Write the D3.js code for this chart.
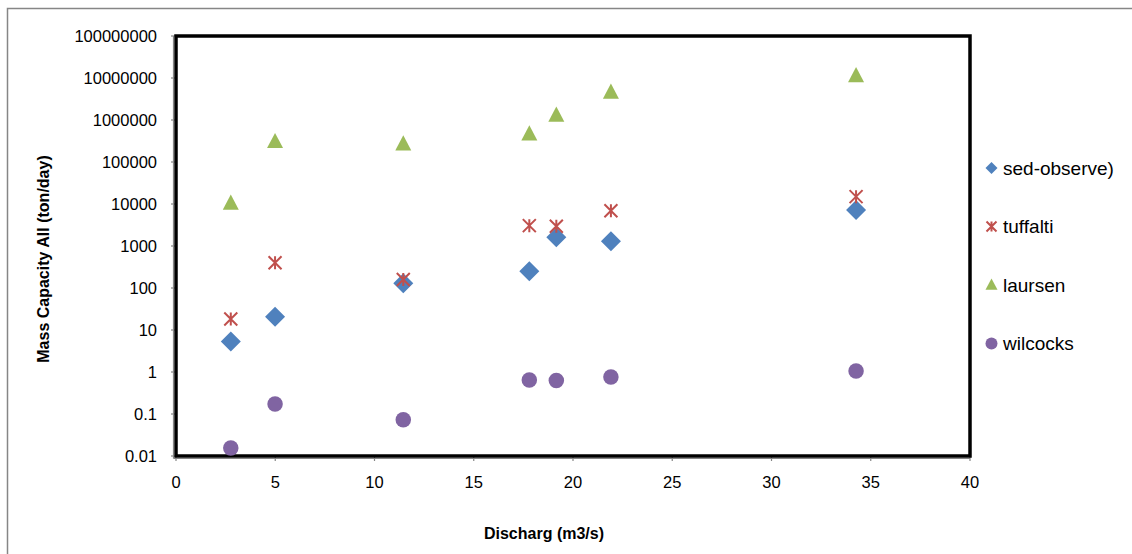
<!DOCTYPE html>
<html>
<head>
<meta charset="utf-8">
<script src="https://cdn.jsdelivr.net/npm/d3@7/dist/d3.min.js"></script>
<style>
  html, body { margin: 0; padding: 0; background: #fff; }
  svg { display: block; font-family: "Liberation Sans", Arial, sans-serif; }
</style>
</head>
<body>
<svg id="chart" width="1132" height="554"></svg>
<script>
// Discharge (m3/s) of each measurement
const discharge = [2.76, 4.99, 11.45, 17.8, 19.16, 21.91, 34.26];

// Mass capacity (ton/day) per method
const sedObserve = [5.3, 20.7, 129, 250, 1610, 1290, 7200];
const tuffalti   = [18.3, 401, 160, 3050, 2950, 6930, 14950];
const laursen    = [10400, 304000, 268000, 464000, 1290000, 4560000, 11200000];
const wilcocks   = [0.0155, 0.173, 0.073, 0.645, 0.63, 0.76, 1.06];

const seriesNames = ["sed-observe)", "tuffalti", "laursen", "wilcocks"];
const seriesColors = ["#4F81BD", "#C0504D", "#9BBB59", "#8064A2"];
const seriesShapes = ["diamond", "star", "triangle", "circle"];
const seriesValues = [sedObserve, tuffalti, laursen, wilcocks];

const xTicks = [0, 5, 10, 15, 20, 25, 30, 35, 40];
const yTicks = [0.01, 0.1, 1, 10, 100, 1000, 10000, 100000, 1000000, 10000000, 100000000];
const yTickLabels = ["0.01", "0.1", "1", "10", "100", "1000", "10000", "100000", "1000000", "10000000", "100000000"];

const xTitle = "Discharg (m3/s)";
const yTitle = "Mass Capacity All (ton/day)";

const svg = d3.select("#chart");
const plot = { left: 176, right: 970, top: 36, bottom: 456 };

const x = d3.scaleLinear().domain([0, 40]).range([plot.left, plot.right]);
const y = d3.scaleLog().domain([0.01, 100000000]).range([plot.bottom, plot.top]);

// outer chart frame
svg.append("rect")
  .attr("x", 7.5).attr("y", 8.5)
  .attr("width", 1140).attr("height", 570)
  .attr("fill", "#fff")
  .attr("stroke", "#868686").attr("stroke-width", 1.5);

// marker path generators (centered at 0,0)
function markerPath(shape, s) {
  const p = d3.path();
  if (shape === "diamond") {
    p.moveTo(0, -s / 2); p.lineTo(s / 2, 0); p.lineTo(0, s / 2); p.lineTo(-s / 2, 0); p.closePath();
  } else if (shape === "triangle") {
    const h = s * 0.95;
    p.moveTo(0, -h * 0.58); p.lineTo(s / 2, h * 0.42); p.lineTo(-s / 2, h * 0.42); p.closePath();
  } else if (shape === "circle") {
    p.arc(0, 0, s / 2, 0, 2 * Math.PI);
  } else if (shape === "star") {
    const r = s / 2;
    p.moveTo(-r, -r); p.lineTo(r, r);
    p.moveTo(r, -r); p.lineTo(-r, r);
    p.moveTo(0, -r); p.lineTo(0, r);
  }
  return p.toString();
}
const markerSize = { diamond: 20, triangle: 16, circle: 15.5, star: 13 };
const legendSize = { diamond: 12, triangle: 12, circle: 12, star: 10 };

function drawMarker(g, shape, color, s) {
  const el = g.append("path").attr("d", markerPath(shape, s));
  if (shape === "star") {
    el.attr("fill", "none").attr("stroke", color).attr("stroke-width", 2);
  } else {
    el.attr("fill", color);
  }
}

// y axis ticks and labels
const yAxis = svg.append("g");
yAxis.selectAll("line").data(yTicks).join("line")
  .attr("x1", plot.left - 5).attr("x2", plot.left)
  .attr("y1", d => y(d)).attr("y2", d => y(d))
  .attr("stroke", "#868686").attr("stroke-width", 1.2);
yAxis.selectAll("text").data(yTicks).join("text")
  .attr("x", 157).attr("y", d => y(d)).attr("dy", "0.36em")
  .attr("text-anchor", "end").attr("font-size", 16.5).attr("fill", "#000")
  .text((d, i) => yTickLabels[i]);

// x axis ticks and labels
const xAxis = svg.append("g");
xAxis.selectAll("line").data(xTicks).join("line")
  .attr("x1", d => x(d)).attr("x2", d => x(d))
  .attr("y1", plot.bottom).attr("y2", plot.bottom + 5)
  .attr("stroke", "#868686").attr("stroke-width", 1.2);
xAxis.selectAll("text").data(xTicks).join("text")
  .attr("x", d => x(d)).attr("y", 487.5)
  .attr("text-anchor", "middle").attr("font-size", 16.5).attr("fill", "#000")
  .text(d => d);

// plot area frame
svg.append("rect")
  .attr("x", plot.left).attr("y", plot.top)
  .attr("width", plot.right - plot.left).attr("height", plot.bottom - plot.top)
  .attr("fill", "none").attr("stroke", "#000").attr("stroke-width", 3.5);
svg.append("line")
  .attr("x1", plot.left - 2.5).attr("x2", plot.left - 2.5)
  .attr("y1", plot.top).attr("y2", plot.bottom + 2.5)
  .attr("stroke", "#868686").attr("stroke-width", 1.2);
svg.append("line")
  .attr("x1", plot.left - 2.5).attr("x2", plot.right)
  .attr("y1", plot.bottom + 2.5).attr("y2", plot.bottom + 2.5)
  .attr("stroke", "#868686").attr("stroke-width", 1.2);

// data markers
seriesValues.forEach((vals, si) => {
  const g = svg.append("g");
  vals.forEach((v, i) => {
    const m = g.append("g").attr("transform", `translate(${x(discharge[i])},${y(v)})`);
    drawMarker(m, seriesShapes[si], seriesColors[si], markerSize[seriesShapes[si]]);
  });
});

// legend
const legendY = [168, 226.5, 285, 343.5];
seriesNames.forEach((name, i) => {
  const g = svg.append("g").attr("transform", `translate(991.5,${legendY[i]})`);
  drawMarker(g, seriesShapes[i], seriesColors[i], legendSize[seriesShapes[i]]);
  g.append("text").attr("x", 11.5).attr("dy", "0.36em")
    .attr("font-size", 19).attr("fill", "#000").text(name);
});

// axis titles
svg.append("text")
  .attr("x", (plot.left + plot.right) / 2 - 29).attr("y", 538.5)
  .attr("text-anchor", "middle").attr("font-size", 16).attr("font-weight", "bold")
  .text(xTitle);
svg.append("text")
  .attr("transform", "translate(49,259) rotate(-90)")
  .attr("text-anchor", "middle").attr("font-size", 16).attr("font-weight", "bold")
  .text(yTitle);
</script>
</body>
</html>
